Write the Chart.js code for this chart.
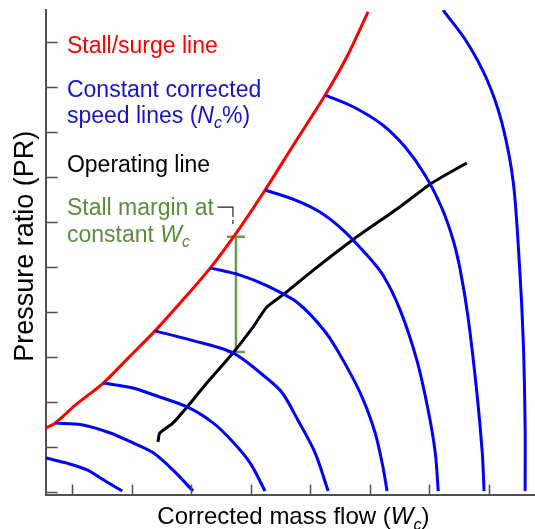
<!DOCTYPE html>
<html>
<head>
<meta charset="utf-8">
<title>Compressor map</title>
<script src="https://cdn.jsdelivr.net/npm/chart.js@4.4.1/dist/chart.umd.min.js"></script>
<style>
  html, body { margin: 0; padding: 0; background: #ffffff; }
  #wrap { width: 535px; height: 529px; position: relative; }
</style>
</head>
<body>
<div id="wrap"><canvas id="compressorMap"></canvas></div>
<script>
// --- values (corrected mass flow, pressure ratio), arbitrary units ---
// axis ticks (no numbers are shown on the axes)
var flowTicks = [1, 2, 3, 4, 5, 6, 7, 8];
var prTicks = [0, 1, 2, 3, 4, 5, 6, 7, 8, 9, 10];
var flowRange = [0.553, 8.776];
var prRange = [-0.056, 10.71];

// stall / surge line
var surgeLine = [[0.55, 1.42], [0.71, 1.53], [1.05, 1.93], [1.52, 2.42], [1.97, 3.02], [2.39, 3.58],
  [2.86, 4.27], [3.32, 4.98], [3.79, 5.82], [4.24, 6.71], [4.74, 7.76], [5.25, 8.82], [5.63, 9.71], [5.97, 10.67]];

// constant corrected speed lines, slowest to fastest
var speedLine1 = [[0.55, 0.76], [0.91, 0.64], [1.25, 0.49], [1.52, 0.27], [1.84, 0.02]];
var speedLine2 = [[0.71, 1.53], [1.18, 1.49], [1.64, 1.31], [2.02, 1.09], [2.36, 0.87], [2.69, 0.49], [3.03, 0.02]];
var speedLine3 = [[1.52, 2.42], [2.02, 2.31], [2.36, 2.16], [2.93, 1.89], [3.37, 1.53], [3.70, 1.11], [3.99, 0.64], [4.24, 0.02]];
var speedLine4 = [[2.39, 3.58], [2.98, 3.38], [3.70, 3.09], [4.24, 2.56], [4.53, 2.20], [4.79, 1.60], [5.08, 0.87], [5.30, 0.02]];
var speedLine5 = [[3.32, 4.98], [3.82, 4.82], [4.24, 4.60], [4.79, 4.20], [5.25, 3.56], [5.55, 2.93], [5.87, 2.11],
  [6.09, 1.31], [6.22, 0.56], [6.29, 0.02]];
var speedLine6 = [[4.24, 6.71], [4.74, 6.49], [5.16, 6.22], [5.55, 5.82], [5.92, 5.31], [6.22, 4.82], [6.51, 4.04],
  [6.79, 2.93], [6.98, 1.82], [7.10, 0.87], [7.15, 0.02]];
var speedLine7 = [[5.25, 8.82], [5.72, 8.56], [6.21, 8.16], [6.59, 7.67], [6.93, 7.04], [7.21, 6.31], [7.40, 5.60],
  [7.52, 4.93], [7.65, 3.89], [7.80, 2.20], [7.89, 0.87], [7.92, 0.02]];
var speedLine8 = [[7.23, 10.71], [7.63, 10.00], [7.97, 9.16], [8.22, 8.20], [8.41, 6.89], [8.52, 4.93], [8.58, 3.31],
  [8.61, 1.44], [8.61, 0.02]];

// operating line
var operatingLine = [[2.44, 1.11], [2.47, 1.31], [2.69, 1.53], [2.93, 1.89], [3.26, 2.42], [3.70, 3.09], [4.04, 3.67],
  [4.27, 4.11], [4.58, 4.42], [5.05, 4.93], [5.75, 5.64], [6.48, 6.31], [7.05, 6.87], [7.63, 7.31]];

// stall margin at constant corrected flow
var marginFlow = 3.75;
var marginPR = [5.67, 3.11];
var marginCap = 0.15;
var leaderSolid = [[3.44, 6.33], [3.70, 6.33], [3.70, 6.20]];
var leaderDashed = [[3.70, 6.20], [3.70, 5.89]];

var speedLines = [speedLine1, speedLine2, speedLine3, speedLine4, speedLine5, speedLine6, speedLine7, speedLine8];

function toXY(arr) {
    return arr.map(function (p) { return { x: p[0], y: p[1] }; });
}

var BLUE = '#0000ff';
var RED = '#ff0000';
var GREEN = '#6a9a4c';
var AXIS = '#505050';
var FONT = '"Liberation Sans", Arial, Helvetica, sans-serif';

var datasets = [];
speedLines.forEach(function (line, i) {
    datasets.push({ label: 'Speed ' + (i + 1), data: toXY(line), borderColor: BLUE, borderWidth: 3, tension: 0.3 });
});
datasets.push({ label: 'Stall/surge line', data: toXY(surgeLine), borderColor: RED, borderWidth: 3, tension: 0.3 });
datasets.push({ label: 'Operating line', data: toXY(operatingLine), borderColor: '#000000', borderWidth: 3, tension: 0.2 });
datasets.push({ label: 'Margin', data: [{ x: marginFlow, y: marginPR[0] }, { x: marginFlow, y: marginPR[1] }], borderColor: GREEN, borderWidth: 2.5 });
marginPR.forEach(function (v) {
    datasets.push({ label: 'Margin cap', data: [{ x: marginFlow - marginCap, y: v }, { x: marginFlow + marginCap, y: v }], borderColor: GREEN, borderWidth: 2.5 });
});
datasets.push({ label: 'Leader', data: toXY(leaderSolid), borderColor: '#222222', borderWidth: 1.2 });
datasets.push({ label: 'Leader dashed', data: toXY(leaderDashed), borderColor: '#222222', borderWidth: 1.2, borderDash: [4, 3] });

// text notes, anchored in data units
var notes = [
    { x: 0.91, y: 9.76, color: RED, parts: [{ t: 'Stall/surge line' }] },
    { x: 0.91, y: 8.78, color: '#1414c8', parts: [{ t: 'Constant corrected' }] },
    { x: 0.91, y: 8.20, color: '#1414c8', parts: [{ t: 'speed lines (' }, { t: 'N', it: true }, { t: 'c', it: true, sub: true }, { t: '%)' }] },
    { x: 0.91, y: 7.11, color: '#000000', parts: [{ t: 'Operating line' }] },
    { x: 0.91, y: 6.16, color: '#5b8c3d', parts: [{ t: 'Stall margin at' }] },
    { x: 0.91, y: 5.56, color: '#5b8c3d', parts: [{ t: 'constant ' }, { t: 'W', it: true }, { t: 'c', it: true, sub: true }] }
];

function partFont(p, size) {
    var s = p.sub ? Math.round(size * 0.68) : size;
    return (p.it ? 'italic ' : '') + s + 'px ' + FONT;
}

function drawRich(ctx, parts, x, y, size, align) {
    var total = 0;
    parts.forEach(function (p) { ctx.font = partFont(p, size); total += ctx.measureText(p.t).width; });
    var cx = align === 'center' ? x - total / 2 : x;
    parts.forEach(function (p) {
        ctx.font = partFont(p, size);
        ctx.fillText(p.t, cx, y + (p.sub ? size * 0.24 : 0));
        cx += ctx.measureText(p.t).width;
    });
}

var mapDecor = {
    id: 'mapDecor',
    afterDraw: function (chart) {
        var ctx = chart.ctx;
        var xs = chart.scales.x, ys = chart.scales.y, area = chart.chartArea;
        ctx.save();
        // inward tick marks
        ctx.strokeStyle = AXIS;
        ctx.lineWidth = 1.5;
        ctx.beginPath();
        flowTicks.forEach(function (v) {
            var px = Math.round(xs.getPixelForValue(v)) + 0.5;
            ctx.moveTo(px, area.bottom);
            ctx.lineTo(px, area.bottom - 10);
        });
        prTicks.forEach(function (v) {
            var py = Math.round(ys.getPixelForValue(v)) + 0.5;
            ctx.moveTo(area.left, py);
            ctx.lineTo(area.left + 12, py);
        });
        ctx.stroke();

        ctx.textBaseline = 'alphabetic';
        ctx.textAlign = 'left';
        notes.forEach(function (n) {
            ctx.fillStyle = n.color;
            drawRich(ctx, n.parts, xs.getPixelForValue(n.x), ys.getPixelForValue(n.y), 23, 'left');
        });

        // axis titles
        ctx.fillStyle = '#000000';
        drawRich(ctx, [{ t: 'Corrected mass flow (' }, { t: 'W', it: true }, { t: 'c', it: true, sub: true }, { t: ')' }],
            (area.left + area.right) / 2 + 3, area.bottom + 29.5, 24, 'center');
        ctx.translate(area.left - 12.5, (area.top + area.bottom) / 2 - 6);
        ctx.rotate(-Math.PI / 2);
        drawRich(ctx, [{ t: 'Pressure ratio (PR)' }], 0, 0, 27, 'center');
        ctx.restore();
    }
};

var ctx = document.getElementById('compressorMap').getContext('2d');
var compressorChart = new Chart(ctx, {
    type: 'scatter',
    data: { datasets: datasets },
    options: {
        responsive: true,
        maintainAspectRatio: false,
        animation: false,
        showLine: true,
        layout: { padding: { left: 45.7, top: 10, right: 0, bottom: 34.5 } },
        elements: { point: { radius: 0, hoverRadius: 0 }, line: { fill: false, borderCapStyle: 'butt' } },
        plugins: { legend: { display: false }, tooltip: { enabled: false } },
        scales: {
            x: {
                type: 'linear', min: flowRange[0], max: flowRange[1],
                grid: { display: false, drawTicks: false },
                ticks: { display: false },
                border: { display: true, color: AXIS, width: 2 }
            },
            y: {
                type: 'linear', min: prRange[0], max: prRange[1],
                grid: { display: false, drawTicks: false },
                ticks: { display: false },
                border: { display: true, color: AXIS, width: 2 }
            }
        }
    },
    plugins: [mapDecor]
});
</script>
</body>
</html>
